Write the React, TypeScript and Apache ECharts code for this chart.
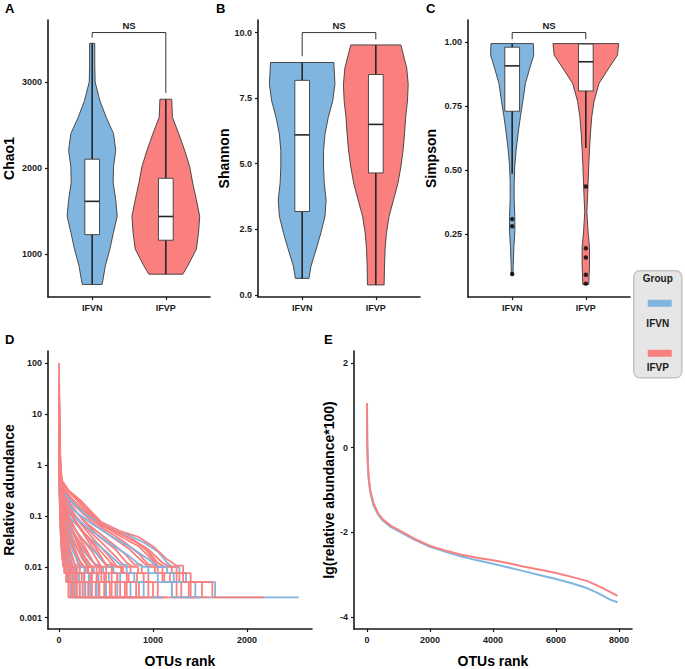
import React, { useEffect, useRef } from "react";
import * as echarts from "echarts";

const groups = ["IFVN", "IFVP"];
const blue = "#80B5E0";
const red = "#FA8080";
const FONT = "'Liberation Sans', Arial, Helvetica, sans-serif";

// ---- Panel A: Chao1 ----
// violin profile: [value, half-width in category units]
const chao1ViolinIFVN = [[647,.135],[866,.18],[1057,.24],[1253,.29],[1440,.34],[1632,.32],[1827,.285],[2015,.29],[2207,.32],[2400,.29],[2590,.19],[2782,.105],[3000,.04],[3200,.035],[3450,.035]];
const chao1ViolinIFVP = [[766,.23],[866,.30],[1057,.415],[1253,.445],[1440,.46],[1632,.415],[1827,.365],[2015,.325],[2207,.255],[2400,.175],[2590,.09],[2800,.08]];
// [whiskerLow, Q1, median, Q3, whiskerHigh]
const chao1Box = [[647,1226,1613,2103,3450],[766,1161,1437,1881,2800]];
const chao1Ticks = [1000, 2000, 3000];
const chao1NS = [3575, 3517, 2873]; // bracket level, left tip, right tip

// ---- Panel B: Shannon ----
const shannonViolinIFVN = [[0.63,.092],[1.1,.12],[1.74,.19],[2.37,.255],[3.0,.31],[3.62,.325],[4.25,.30],[4.88,.29],[5.5,.29],[6.14,.31],[6.77,.355],[7.4,.415],[8.03,.445],[8.86,.43]];
const shannonViolinIFVP = [[0.38,.113],[1.1,.118],[1.74,.126],[2.37,.145],[3.0,.18],[3.62,.24],[4.25,.30],[4.88,.34],[5.5,.37],[6.14,.39],[6.77,.405],[7.4,.43],[8.03,.44],[8.65,.42],[9.53,.34]];
const shannonBox = [[0.63,3.18,6.1,8.18,8.86],[0.38,4.65,6.5,8.4,9.53]];
const shannonTicks = [0, 2.5, 5, 7.5, 10];
const shannonNS = [10.0, 9.1, 9.74];

// ---- Panel C: Simpson ----
const simpsonViolinIFVN = [[0.09,.01],[0.13,.014],[0.2,.023],[0.26,.036],[0.32,.036],[0.39,.027],[0.45,.027],[0.52,.036],[0.58,.054],[0.645,.081],[0.71,.112],[0.77,.145],[0.84,.18],[0.9,.24],[0.95,.293],[0.995,.288]];
const simpsonViolinIFVP = [[0.055,.04],[0.13,.05],[0.2,.05],[0.26,.031],[0.34,.014],[0.39,.023],[0.45,.031],[0.52,.04],[0.58,.05],[0.645,.063],[0.71,.081],[0.77,.112],[0.84,.18],[0.9,.315],[0.95,.43],[0.995,.446]];
const simpsonBox = [[0.487,0.731,0.908,0.981,0.995],[0.587,0.81,0.924,0.993,0.995]];
const simpsonOutliersIFVN = [0.31, 0.282, 0.096];
const simpsonOutliersIFVP = [0.437, 0.196, 0.16, 0.093, 0.058];
const simpsonTicks = [0.25, 0.5, 0.75, 1.0];
const simpsonNS = [1.038, 1.012, 1.012];

// ---- Panel D: rank abundance per sample ----
const tailLevels = [0.0075, 0.005, 0.0025];
// each: head points [rank, relative abundance] and tail ranks [to 0.0075, to 0.005, to 0.0025, end]
const ifvnCurves = [
  { head: [[0,60],[6,5],[15,0.8],[30,0.3],[120,0.2],[300,0.1],[500,0.065],[700,0.045],[900,0.03],[1050,0.02],[1150,0.012],[1200,0.01]], tail: [1280,1350,1660,2550] },
  { head: [[0,30],[6,3],[15,0.6],[30,0.25],[150,0.13],[350,0.07],[550,0.04],[750,0.025],[950,0.014],[1050,0.01]], tail: [1150,1220,1450,1660] },
  { head: [[0,20],[6,2],[15,0.5],[30,0.22],[150,0.1],[350,0.05],[550,0.028],[750,0.016],[880,0.01]], tail: [950,1050,1200,1420] },
  { head: [[0,15],[6,1.6],[15,0.45],[30,0.2],[120,0.09],[300,0.04],[500,0.02],[650,0.011]], tail: [720,800,900,1100] },
  { head: [[0,10],[6,1.2],[15,0.4],[30,0.18],[100,0.08],[250,0.035],[400,0.018],[520,0.01]], tail: [580,650,760,920] },
  { head: [[0,8],[6,1],[15,0.35],[30,0.15],[90,0.07],[200,0.03],[330,0.014],[420,0.01]], tail: [470,530,620,780] },
  { head: [[0,12],[6,1.1],[15,0.35],[30,0.14],[80,0.06],[180,0.025],[280,0.012],[330,0.01]], tail: [370,420,500,640] },
  { head: [[0,6],[6,0.8],[15,0.3],[30,0.12],[70,0.05],[150,0.02],[230,0.01]], tail: [270,320,400,540] },
  { head: [[0,5],[6,0.7],[15,0.25],[25,0.1],[60,0.045],[120,0.018],[180,0.01]], tail: [220,260,330,450] },
  { head: [[0,4],[6,0.6],[15,0.22],[25,0.09],[50,0.035],[100,0.015],[150,0.01]], tail: [180,210,270,370] },
  { head: [[0,7],[6,0.4],[20,0.08],[40,0.03],[80,0.012],[110,0.01]], tail: [130,160,220,300] },
  { head: [[0,3],[6,0.3],[18,0.06],[35,0.025],[65,0.01]], tail: [90,120,170,240] },
  { head: [[0,2],[6,0.25],[15,0.05],[30,0.02],[50,0.01]], tail: [70,90,130,180] },
];
const ifvpCurves = [
  { head: [[0,100],[5,10],[15,1.2],[30,0.5],[100,0.32],[230,0.2],[450,0.075],[650,0.05],[850,0.038],[1000,0.025],[1150,0.014],[1250,0.0105]], tail: [1320,1400,1630,2180] },
  { head: [[0,40],[6,4],[15,0.9],[30,0.45],[120,0.28],[300,0.12],[500,0.06],[750,0.037],[950,0.022],[1100,0.012],[1180,0.01]], tail: [1250,1320,1520,1600] },
  { head: [[0,50],[5,5],[15,1],[30,0.42],[100,0.25],[250,0.13],[450,0.065],[700,0.04],[900,0.025],[1000,0.014],[1050,0.01]], tail: [1100,1180,1300,1450] },
  { head: [[0,35],[6,3.5],[15,0.85],[30,0.47],[110,0.3],[260,0.16],[420,0.08],[600,0.05],[800,0.033],[950,0.02],[1050,0.012],[1120,0.01]], tail: [1200,1280,1380,1500] },
  { head: [[0,30],[6,3],[15,0.8],[30,0.4],[150,0.2],[350,0.09],[600,0.045],[850,0.025],[1000,0.013],[1060,0.01]], tail: [1150,1250,1400,1520] },
  { head: [[0,22],[6,2.2],[15,0.65],[30,0.38],[130,0.22],[300,0.1],[480,0.055],[680,0.032],[850,0.018],[950,0.011]], tail: [1020,1100,1200,1300] },
  { head: [[0,20],[6,2.5],[15,0.7],[30,0.36],[150,0.17],[350,0.075],[550,0.04],[750,0.022],[900,0.012],[950,0.01]], tail: [1050,1120,1250,1400] },
  { head: [[0,16],[6,1.7],[15,0.55],[30,0.34],[110,0.18],[260,0.08],[420,0.04],[600,0.022],[720,0.012],[780,0.01]], tail: [840,900,1000,1150] },
  { head: [[0,25],[6,2],[15,0.6],[30,0.33],[150,0.14],[300,0.07],[500,0.036],[700,0.018],[800,0.011]], tail: [880,950,1050,1250] },
  { head: [[0,13],[6,1.5],[15,0.5],[30,0.31],[100,0.16],[230,0.07],[380,0.033],[520,0.017],[620,0.01]], tail: [680,740,850,960] },
  { head: [[0,15],[6,1.8],[15,0.55],[30,0.3],[120,0.13],[280,0.06],[450,0.03],[600,0.016],[700,0.01]], tail: [760,830,950,1100] },
  { head: [[0,10],[6,1.3],[15,0.47],[30,0.29],[90,0.15],[200,0.065],[330,0.028],[460,0.013],[520,0.01]], tail: [570,620,700,860] },
  { head: [[0,12],[6,1.5],[15,0.5],[30,0.28],[100,0.12],[250,0.05],[400,0.025],[550,0.012],[600,0.01]], tail: [660,720,820,1000] },
  { head: [[0,8],[6,1.2],[15,0.43],[30,0.27],[80,0.13],[170,0.055],[290,0.022],[380,0.011]], tail: [430,480,560,720] },
  { head: [[0,18],[6,1.6],[15,0.55],[30,0.32],[100,0.14],[220,0.06],[380,0.025],[500,0.011]], tail: [560,620,720,900] },
  { head: [[0,10],[6,1.3],[15,0.45],[30,0.26],[90,0.1],[200,0.045],[350,0.02],[450,0.01]], tail: [500,560,650,820] },
  { head: [[0,7],[6,1.1],[15,0.4],[30,0.24],[70,0.11],[150,0.045],[250,0.017],[320,0.01]], tail: [360,410,500,600] },
  { head: [[0,8],[6,1.1],[15,0.4],[30,0.22],[80,0.09],[180,0.04],[300,0.018],[400,0.01]], tail: [450,500,600,760] },
  { head: [[0,14],[6,1.4],[15,0.5],[30,0.3],[80,0.1],[170,0.04],[280,0.015],[350,0.01]], tail: [400,450,540,700] },
  { head: [[0,6],[6,1],[15,0.37],[30,0.21],[65,0.09],[130,0.035],[210,0.014],[260,0.01]], tail: [300,340,420,500] },
  { head: [[0,9],[6,1.1],[15,0.4],[30,0.2],[70,0.08],[150,0.035],[250,0.014],[310,0.01]], tail: [350,400,480,640] },
  { head: [[0,6],[6,0.9],[15,0.35],[30,0.18],[60,0.07],[130,0.03],[220,0.013],[270,0.01]], tail: [310,350,430,580] },
  { head: [[0,11],[6,1.2],[15,0.45],[30,0.25],[60,0.08],[120,0.03],[200,0.012],[240,0.01]], tail: [280,320,390,520] },
  { head: [[0,7],[6,0.9],[15,0.35],[30,0.17],[55,0.06],[110,0.025],[170,0.011]], tail: [220,270,350,470] },
  { head: [[0,5],[6,0.8],[15,0.3],[30,0.15],[50,0.05],[100,0.02],[150,0.01]], tail: [190,240,310,420] },
  { head: [[0,9],[6,1],[15,0.4],[30,0.2],[50,0.06],[90,0.022],[130,0.01]], tail: [170,210,280,380] },
  { head: [[0,4],[6,0.7],[15,0.25],[25,0.12],[45,0.045],[80,0.018],[115,0.01]], tail: [150,190,250,340] },
  { head: [[0,6],[6,0.8],[15,0.28],[25,0.13],[40,0.04],[70,0.016],[100,0.01]], tail: [130,170,220,300] },
  { head: [[0,3],[6,0.6],[15,0.22],[25,0.1],[40,0.035],[65,0.014],[90,0.01]], tail: [110,140,190,260] },
  { head: [[0,5],[6,0.7],[12,0.25],[20,0.1],[35,0.03],[60,0.013],[80,0.01]], tail: [95,120,160,220] },
  { head: [[0,3.5],[6,0.35],[20,0.08],[35,0.025],[55,0.011]], tail: [70,100,140,190] },
  { head: [[0,4],[6,0.3],[18,0.07],[30,0.022],[50,0.01]], tail: [60,85,120,160] },
  { head: [[0,2.5],[6,0.25],[15,0.06],[28,0.02],[45,0.01]], tail: [55,75,100,130] },
];
const dYTicks = [0.001, 0.01, 0.1, 1, 10, 100];
const dXTicks = [0, 1000, 2000];

// ---- Panel E: mean rank abundance, lg(relative abundance*100) ----
const eRanks = [0,5,10,25,50,100,200,350,500,750,1000,1500,2000,2500,3000,3500,4000,4500,5000,5500,6000,6500,7000,7300,7500,7700,7950];
const eIFVN = [0.8,0.3,0.0,-0.4,-0.72,-1.05,-1.35,-1.58,-1.72,-1.87,-1.97,-2.17,-2.34,-2.46,-2.57,-2.66,-2.74,-2.83,-2.92,-3.01,-3.1,-3.2,-3.32,-3.42,-3.5,-3.58,-3.65];
const eIFVP = [1.05,0.4,0.1,-0.35,-0.67,-1.0,-1.3,-1.55,-1.69,-1.84,-1.94,-2.15,-2.32,-2.43,-2.53,-2.6,-2.66,-2.73,-2.81,-2.88,-2.96,-3.05,-3.15,-3.25,-3.32,-3.4,-3.5];
const eYTicks = [-4, -2, 0, 2];
const eXTicks = [0, 2000, 4000, 6000, 8000];

const axisColor = "#1a1a1a";
const labelStyle = { fontFamily: FONT, fontWeight: "bold", fontSize: 9, color: "#1a1a1a" };
const nameStyle = { fontFamily: FONT, fontWeight: "bold", fontSize: 14, color: "#000" };

function buildCurve(c: any) {
  const pts = c.head.map((p: number[]) => [p[0], p[1]]);
  let prev = c.head[c.head.length - 1][1];
  for (let i = 0; i < 3; i++) {
    pts.push([c.tail[i], prev]);
    pts.push([c.tail[i], tailLevels[i]]);
    prev = tailLevels[i];
  }
  pts.push([c.tail[3], prev]);
  return pts;
}

function xAxisCat(gi: number) {
  return {
    type: "value", gridIndex: gi, min: 0.4, max: 2.6,
    axisLine: { show: true, onZero: false, lineStyle: { color: axisColor, width: 1.6 } },
    axisTick: { show: true, length: 3, customValues: [1, 2], lineStyle: { color: axisColor, width: 1.2 } },
    axisLabel: { ...labelStyle, margin: 6, customValues: [1, 2], formatter: (v: number) => groups[Math.round(v) - 1] },
    splitLine: { show: false },
  };
}

function xAxisNum(gi: number, min: number, max: number, ticks: number[]) {
  return {
    type: "value", gridIndex: gi, min, max, name: "OTUs rank", nameLocation: "middle", nameGap: 25, nameTextStyle: nameStyle,
    axisLine: { show: true, onZero: false, lineStyle: { color: axisColor, width: 1.6 } },
    axisTick: { show: true, length: 3, customValues: ticks, lineStyle: { color: axisColor, width: 1.2 } },
    axisLabel: { ...labelStyle, margin: 6, customValues: ticks, formatter: (v: number) => String(v) },
    splitLine: { show: false },
  };
}

function yAxisVal(gi: number, min: number, max: number, ticks: number[], fmt: (v: number) => string, name: string, gap: number) {
  return {
    type: "value", gridIndex: gi, min, max, name, nameLocation: "middle", nameGap: gap, nameTextStyle: nameStyle,
    axisLine: { show: true, onZero: false, lineStyle: { color: axisColor, width: 1.6 } },
    axisTick: { show: true, length: 3, customValues: ticks, lineStyle: { color: axisColor, width: 1.2 } },
    axisLabel: { ...labelStyle, margin: 6, customValues: ticks, formatter: fmt },
    splitLine: { show: false },
  };
}

function violinSeries(gi: number, profiles: number[][][], boxes: number[][]) {
  return {
    type: "custom", xAxisIndex: gi, yAxisIndex: gi, silent: true, z: 2,
    data: [[1, 0], [2, 1]],
    renderItem: (params: any, api: any) => {
      const x = api.value(0);
      const g = api.value(1);
      const prof = profiles[g];
      const right = prof.map((p) => api.coord([x + p[1], p[0]]));
      const left = prof.slice().reverse().map((p) => api.coord([x - p[1], p[0]]));
      const [lo, q1, med, q3, hi] = boxes[g];
      const bw = 0.1;
      const p1 = api.coord([x - bw, q3]);
      const p2 = api.coord([x + bw, q1]);
      const m1 = api.coord([x - bw, med]);
      const m2 = api.coord([x + bw, med]);
      const wl = api.coord([x, lo]);
      const wh = api.coord([x, hi]);
      return {
        type: "group",
        children: [
          { type: "polygon", shape: { points: right.concat(left) }, style: { fill: g === 0 ? blue : red, stroke: "#3a3a3a", lineWidth: 0.9 } },
          { type: "line", shape: { x1: wl[0], y1: wl[1], x2: wh[0], y2: wh[1] }, style: { stroke: "#262626", lineWidth: 1.6 } },
          { type: "rect", shape: { x: p1[0], y: p1[1], width: p2[0] - p1[0], height: p2[1] - p1[1] }, style: { fill: "#fff", stroke: "#3a3a3a", lineWidth: 0.9 } },
          { type: "line", shape: { x1: m1[0], y1: m1[1], x2: m2[0], y2: m2[1] }, style: { stroke: "#262626", lineWidth: 1.6 } },
        ],
      };
    },
  };
}

function bracketSeries(gi: number, ns: number[]) {
  return {
    type: "custom", xAxisIndex: gi, yAxisIndex: gi, silent: true, z: 3,
    data: [[1.5, ns[0]]],
    renderItem: (params: any, api: any) => {
      const a = api.coord([1, ns[1]]);
      const b = api.coord([1, ns[0]]);
      const c = api.coord([2, ns[0]]);
      const d = api.coord([2, ns[2]]);
      const m = api.coord([1.5, ns[0]]);
      return {
        type: "group",
        children: [
          { type: "polyline", shape: { points: [a, b, c, d] }, style: { stroke: "#333", lineWidth: 1, fill: null } },
          { type: "text", x: m[0], y: m[1] - 7, style: { text: "NS", fontFamily: FONT, fontWeight: "bold", fontSize: 9.5, fill: "#1a1a1a", align: "center", verticalAlign: "middle" } },
        ],
      };
    },
  };
}

export default function App() {
  const ref = useRef<HTMLDivElement>(null);
  useEffect(() => {
    if (!ref.current) return;
    const chart = echarts.init(ref.current, null, { renderer: "svg" });

    // draw order: mid-size IFVP samples, then IFVN, then the remaining IFVP samples on top
    const redLine = (c: any) => ({ type: "line", xAxisIndex: 3, yAxisIndex: 3, data: buildCurve(c), showSymbol: false, silent: true, lineStyle: { color: red, width: 1.8 }, z: 2 });
    const blueLine = (c: any) => ({ type: "line", xAxisIndex: 3, yAxisIndex: 3, data: buildCurve(c), showSymbol: false, silent: true, lineStyle: { color: blue, width: 1.8 }, z: 2 });
    const dSeries: any[] = [];
    ifvpCurves.slice(2, 12).forEach((c) => dSeries.push(redLine(c)));
    ifvnCurves.forEach((c) => dSeries.push(blueLine(c)));
    ifvpCurves.slice(0, 2).forEach((c) => dSeries.push(redLine(c)));
    ifvpCurves.slice(12).forEach((c, i) => { if (i % 3 !== 1) dSeries.push(redLine(c)); });
    ifvpCurves.slice(12).forEach((c, i) => { if (i % 3 === 1) dSeries.splice(10, 0, redLine(c)); });

    const letter = (t: string, x: number, y: number) => ({ type: "text", x, y, style: { text: t, fontFamily: FONT, fontWeight: "bold", fontSize: 13, fill: "#000", verticalAlign: "middle" } });

    const option: any = {
      animation: false,
      backgroundColor: "#fff",
      grid: [
        { left: 48, top: 20, width: 162, height: 277 },
        { left: 258, top: 20, width: 162, height: 277 },
        { left: 468, top: 20, width: 162, height: 277 },
        { left: 48, top: 351, width: 264, height: 279 },
        { left: 354, top: 351, width: 278, height: 279 },
      ],
      xAxis: [
        xAxisCat(0), xAxisCat(1), xAxisCat(2),
        xAxisNum(3, -117, 2690, dXTicks),
        xAxisNum(4, -413, 8413, eXTicks),
      ],
      yAxis: [
        yAxisVal(0, 501, 3721, chao1Ticks, (v) => String(v), "Chao1", 32),
        yAxisVal(1, -0.08, 10.48, shannonTicks, (v) => v.toFixed(1), "Shannon", 26),
        yAxisVal(2, 0.006, 1.087, simpsonTicks, (v) => v.toFixed(2), "Simpson", 30),
        {
          type: "log", gridIndex: 3, min: 0.0006, max: 172, name: "Relative adundance", nameLocation: "middle", nameGap: 32, nameTextStyle: nameStyle,
          axisLine: { show: true, onZero: false, lineStyle: { color: axisColor, width: 1.6 } },
          axisTick: { show: true, length: 3, customValues: dYTicks, lineStyle: { color: axisColor, width: 1.2 } },
          axisLabel: { ...labelStyle, margin: 6, customValues: dYTicks, formatter: (v: number) => String(+v.toPrecision(3)) },
          splitLine: { show: false },
        },
        yAxisVal(4, -4.28, 2.28, eYTicks, (v) => String(v), "lg(relative abundance*100)", 14),
      ],
      series: [
        violinSeries(0, [chao1ViolinIFVN, chao1ViolinIFVP], chao1Box),
        bracketSeries(0, chao1NS),
        violinSeries(1, [shannonViolinIFVN, shannonViolinIFVP], shannonBox),
        bracketSeries(1, shannonNS),
        violinSeries(2, [simpsonViolinIFVN, simpsonViolinIFVP], simpsonBox),
        bracketSeries(2, simpsonNS),
        {
          type: "scatter", xAxisIndex: 2, yAxisIndex: 2, silent: true, z: 4, symbolSize: 4.5,
          itemStyle: { color: "#000" },
          data: simpsonOutliersIFVN.map((v) => [1, v]).concat(simpsonOutliersIFVP.map((v) => [2, v])),
        },
        ...dSeries,
        { type: "line", xAxisIndex: 4, yAxisIndex: 4, showSymbol: false, silent: true, data: eRanks.map((r, i) => [r, eIFVN[i]]), lineStyle: { color: blue, width: 2 }, z: 2 },
        { type: "line", xAxisIndex: 4, yAxisIndex: 4, showSymbol: false, silent: true, data: eRanks.map((r, i) => [r, eIFVP[i]]), lineStyle: { color: red, width: 2 }, z: 3 },
      ],
      graphic: [
        letter("A", 5, 8), letter("B", 216, 8), letter("C", 426, 8), letter("D", 5, 339), letter("E", 324, 339),
        {
          type: "group", left: 633, top: 270,
          children: [
            { type: "rect", shape: { x: 0, y: 0, width: 48, height: 107, r: 6 }, style: { fill: "#e6e6e6", stroke: "#c4c4c4", lineWidth: 1.5 } },
            { type: "text", x: 24, y: 8, style: { text: "Group", fontFamily: FONT, fontWeight: "bold", fontSize: 10, fill: "#1a1a1a", align: "center", verticalAlign: "middle" } },
            { type: "rect", shape: { x: 14, y: 29, width: 24, height: 7 }, style: { fill: blue } },
            { type: "text", x: 24, y: 53, style: { text: "IFVN", fontFamily: FONT, fontWeight: "bold", fontSize: 10, fill: "#1a1a1a", align: "center", verticalAlign: "middle" } },
            { type: "rect", shape: { x: 14, y: 79, width: 24, height: 7 }, style: { fill: red } },
            { type: "text", x: 24, y: 97, style: { text: "IFVP", fontFamily: FONT, fontWeight: "bold", fontSize: 10, fill: "#1a1a1a", align: "center", verticalAlign: "middle" } },
          ],
        },
      ],
    };
    chart.setOption(option);
    return () => chart.dispose();
  }, []);
  return <div ref={ref} style={{ position: "absolute", left: 0, top: 0, width: 685, height: 669 }} />;
}
